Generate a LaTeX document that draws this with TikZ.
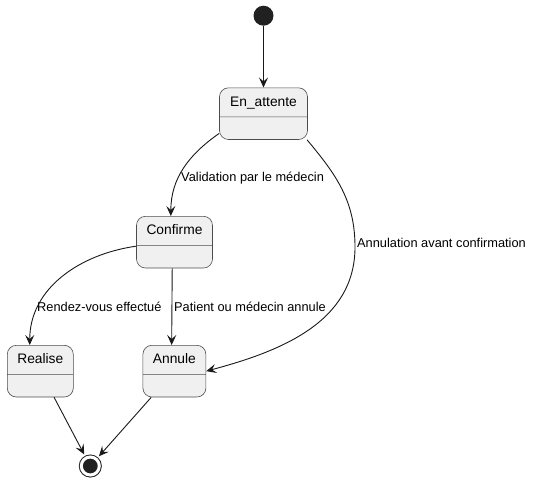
\documentclass[tikz,border=0pt]{standalone}
\usepackage{fontspec}
\setmainfont{Liberation Sans}
\usetikzlibrary{shapes.multipart,arrows.meta}
\begin{document}
\begin{tikzpicture}[x=1pt,y=1pt]
		\tikzstyle{State} = [rectangle split, rectangle split parts=2, rounded corners=9pt, draw=black!70, line width=0.6pt, fill=black!6, text centered, inner ysep=8pt, text height=10pt, text depth=2.5pt, rectangle split empty part height=6pt, font=\fontsize{13.8}{16}\selectfont, anchor=north]
		\tikzstyle{Start} = [circle, fill=black!87, minimum size=20pt, inner sep=0pt]
		\tikzstyle{Final} = [circle, fill=black!87, draw=black!87, line width=1pt, double=white, double distance=3pt, minimum size=18pt, inner sep=0pt, outer sep=4pt]
		\tikzstyle{Label} = [anchor=west, inner sep=0pt, font=\fontsize{12.8}{15}\selectfont]
		\tikzstyle{arrow} = [line width=0.9pt, black!90, -{Stealth[length=10pt,width=9pt,inset=4pt]}]

		\useasboundingbox (0,0) rectangle (534,-483);
		\node (start) [Start] at (263.5,-15.7) {};
		\node (enattente) [State, minimum width=88pt] at (263.5,-87.5) {En\_attente \nodepart{two}};
		\node (confirme) [State, minimum width=76pt] at (174.5,-216) {Confirme \nodepart{two}};
		\node (realise) [State, minimum width=66pt] at (40.3,-345) {Realise \nodepart{two}};
		\node (annule) [State, minimum width=63pt] at (174.4,-345) {Annule \nodepart{two}};
		\node (final) [Final] at (90.3,-466) {};

		\node (lblvalid) [Label] at (181,-178) {Validation par le médecin};
		\node (lblannav) [Label] at (357,-243) {Annulation avant confirmation};
		\node (lblrdv) [Label] at (37,-307) {Rendez-vous effectué};
		\node (lblpat) [Label] at (174,-307) {Patient ou médecin annule};

		\draw [arrow] (start) -- (enattente);
		\draw [arrow] (enattente.204) to[out=215,in=90] (confirme.98);
		\draw [arrow] (enattente.-31) to[out=-50,in=90] (355,-247) to[out=-90,in=15] (annule.east);
		\draw [arrow] (confirme.186) to[out=188,in=90] (realise.112);
		\draw [arrow] (confirme.-95) -- (annule.96);
		\draw [arrow] (realise) -- (final);
		\draw [arrow] (annule) -- (final);
\end{tikzpicture}
\end{document}
